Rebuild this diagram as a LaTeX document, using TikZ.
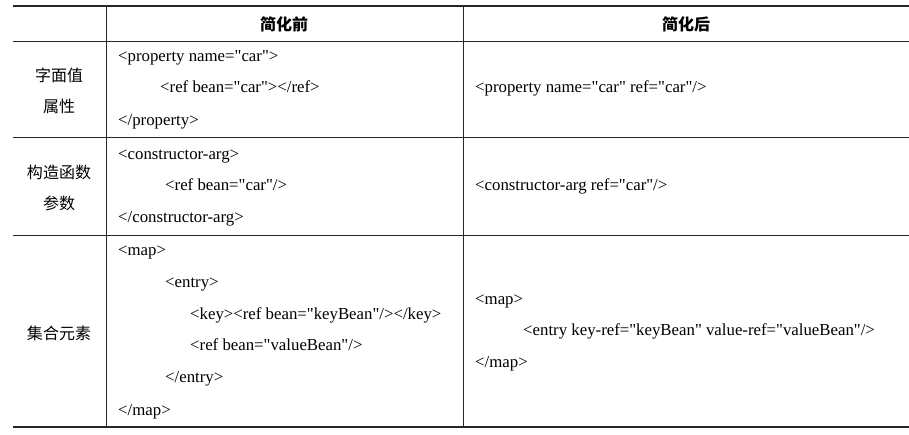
\documentclass[tikz,border=0pt]{standalone}
\usepackage{fontspec}
\setmainfont{Liberation Serif}[Ligatures=TeXOff]
\newfontfamily\cjk{Noto Sans CJK SC}
\begin{document}
\begin{tikzpicture}[x=1pt,y=-1pt,
  code/.style={anchor=west,inner sep=0pt,text height=0.7em,text depth=0.25em,font=\fontsize{16.8}{20}\selectfont},
  head/.style={inner sep=0pt,font=\cjk\bfseries\fontsize{16}{18}\selectfont},
  lab/.style={inner sep=0pt,font=\cjk\fontsize{16}{18}\selectfont},
  thickrule/.style={draw=black!85,line width=1.8pt},
  thinrule/.style={draw=black!85,line width=0.9pt}]
\useasboundingbox (0,0) rectangle (909,435);
% table rules
\draw[thickrule] (13,6) -- (909,6);
\draw[thinrule] (13,41) -- (909,41);
\draw[thinrule] (13,137) -- (909,137);
\draw[thinrule] (13,235) -- (909,235);
\draw[thickrule] (13,427) -- (909,427);
\draw[thinrule] (106,6) -- (106,427);
\draw[thinrule] (463,6) -- (463,427);
% header
\node[head] (h1) at (284,24) {简化前};
\node[head] (h2) at (686,24) {简化后};
% row 1
\node[lab] (l1a) at (59,75) {字面值};
\node[lab] (l1b) at (59,106) {属性};
\node[code] (a1) at (118,59) {<property name="car">};
\node[code] (a2) at (160,90) {<ref bean="car"></ref>};
\node[code] (a3) at (118,123) {</property>};
\node[code] (b1) at (475,90) {<property name="car" ref="car"/>};
% row 2
\node[lab] (l2a) at (59,172) {构造函数};
\node[lab] (l2b) at (59,203) {参数};
\node[code] (c1) at (118,157) {<constructor-arg>};
\node[code] (c2) at (165,188) {<ref bean="car"/>};
\node[code] (c3) at (118,220) {</constructor-arg>};
\node[code] (d1) at (475,188) {<constructor-arg ref="car"/>};
% row 3
\node[lab] (l3) at (59,333) {集合元素};
\node[code] (e1) at (118,253) {<map>};
\node[code] (e2) at (165,285) {<entry>};
\node[code] (e3) at (190,317) {<key><ref bean="keyBean"/></key>};
\node[code] (e4) at (190,348) {<ref bean="valueBean"/>};
\node[code] (e5) at (165,380) {</entry>};
\node[code] (e6) at (118,413) {</map>};
\node[code] (f1) at (475,302) {<map>};
\node[code] (f2) at (523,333) {<entry key-ref="keyBean" value-ref="valueBean"/>};
\node[code] (f3) at (475,365) {</map>};
\end{tikzpicture}
\end{document}
